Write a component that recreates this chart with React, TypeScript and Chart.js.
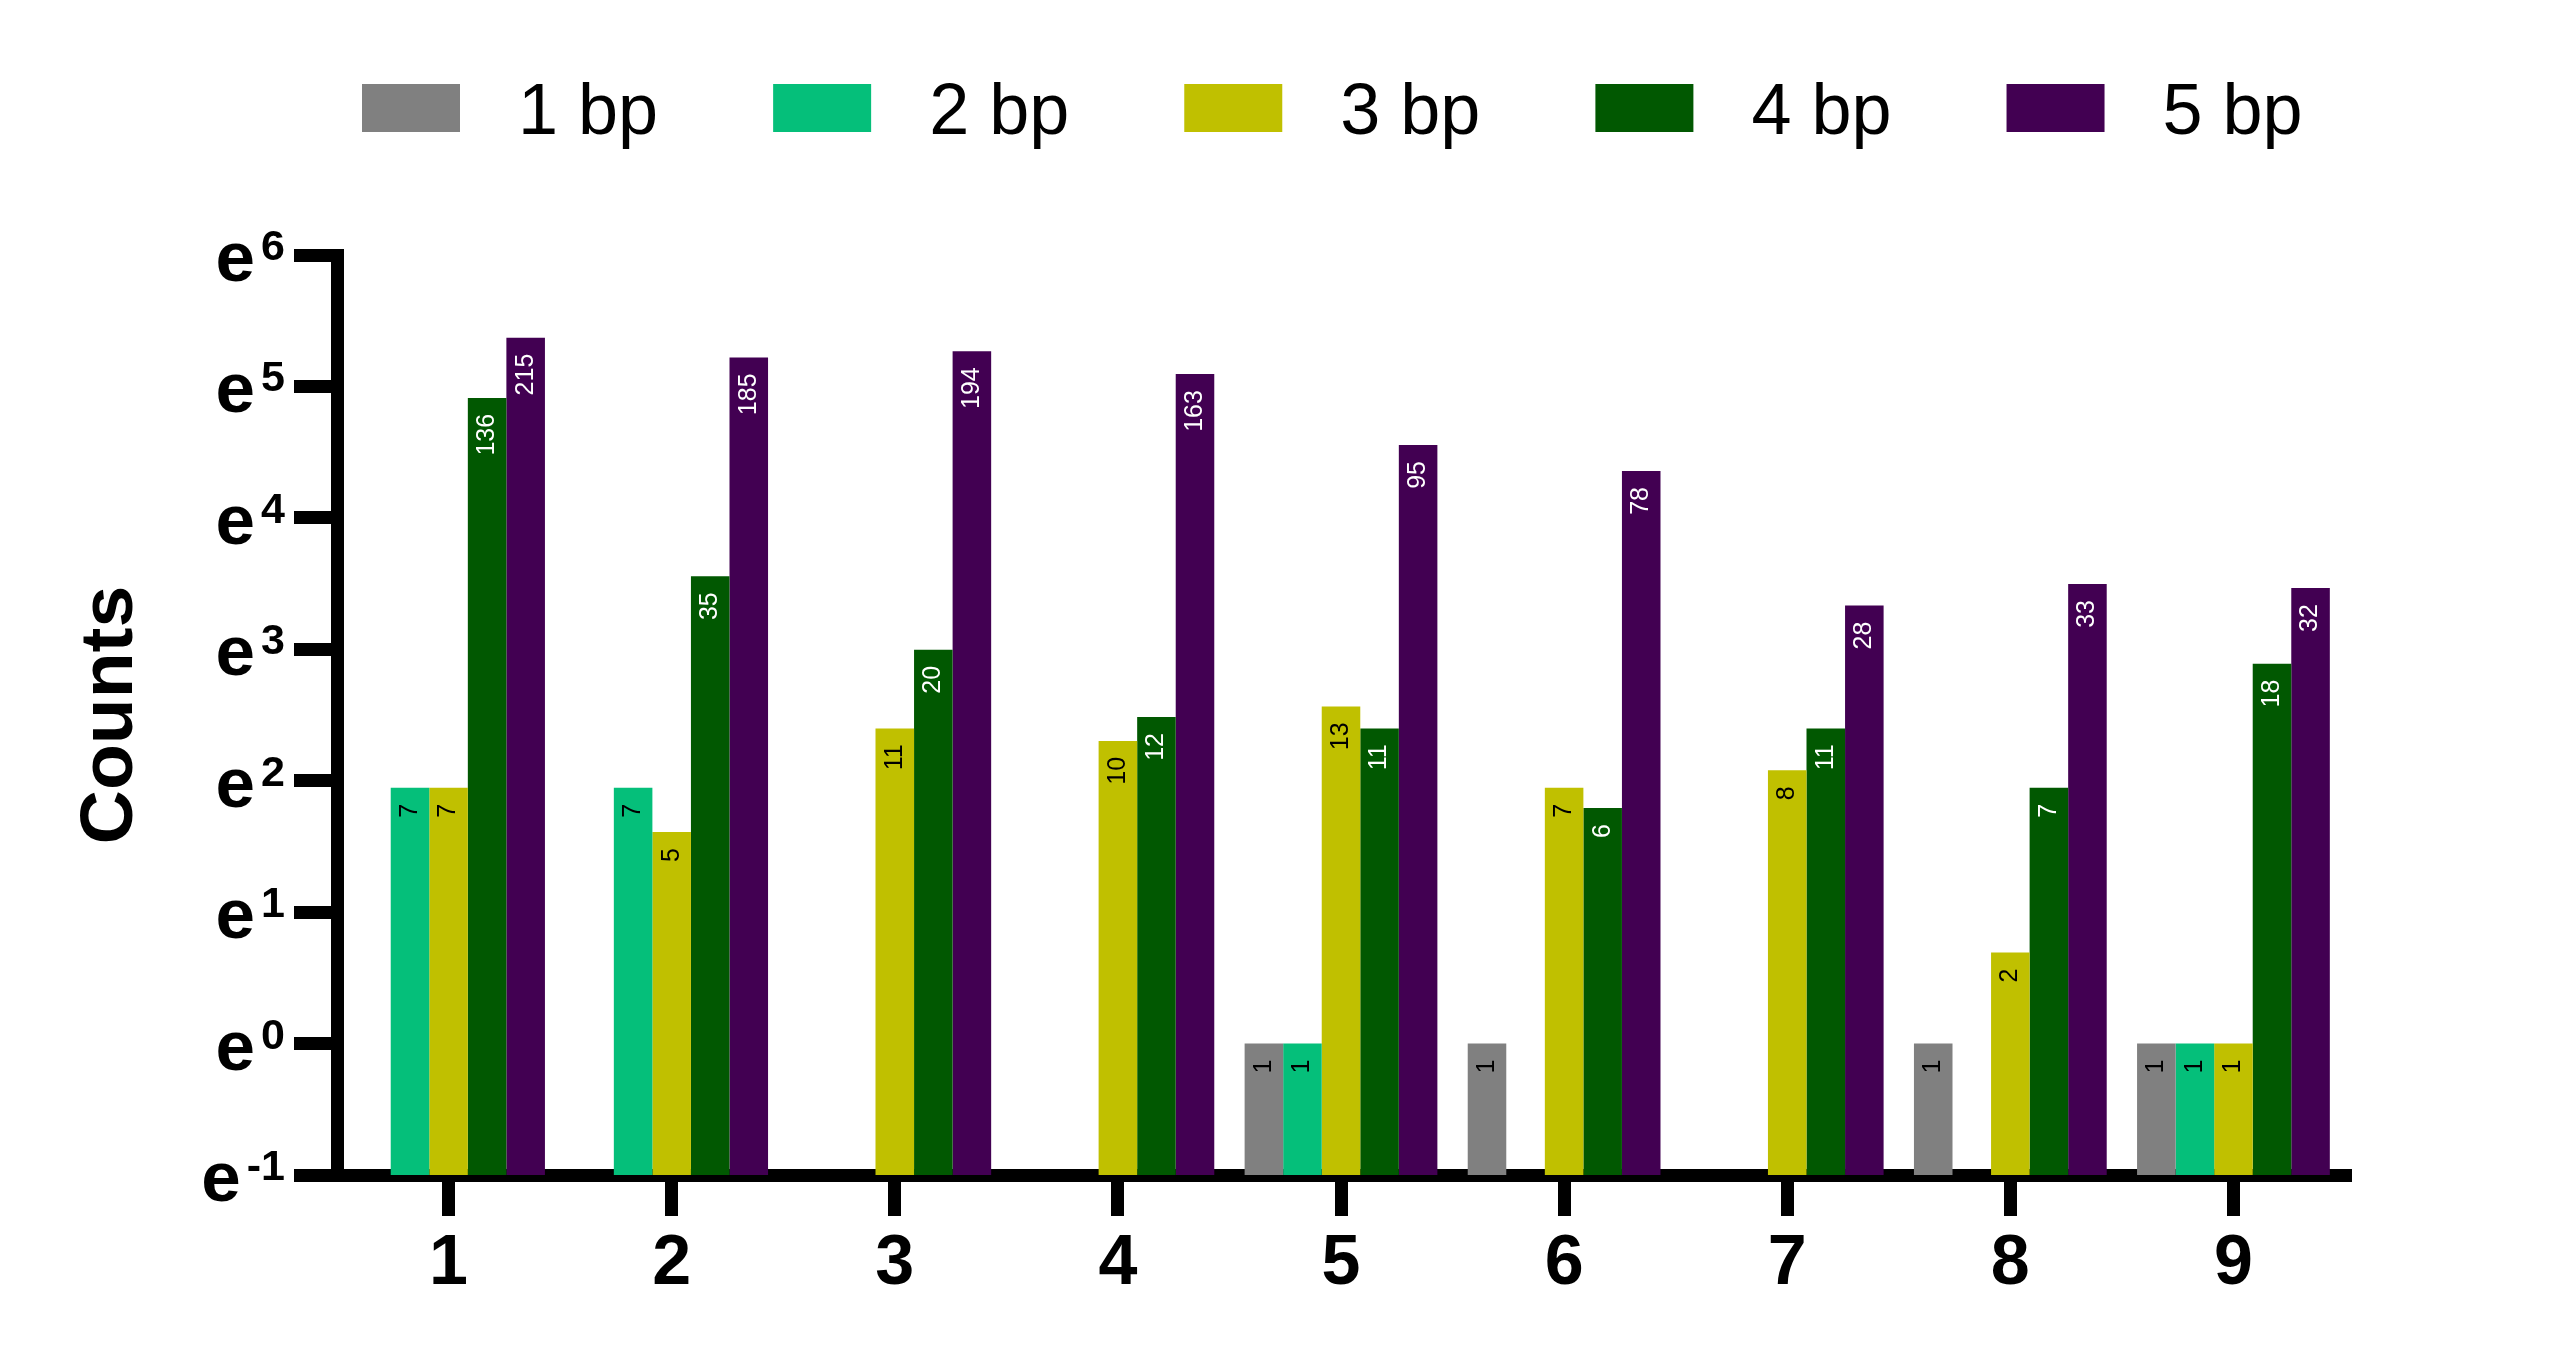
import { useEffect, useRef } from "react";
import { Chart, registerables, type Plugin } from "chart.js";

Chart.register(...registerables);

const FONT = "'Liberation Sans', Arial, Helvetica, sans-serif";

// counts per group, one array per deletion size (null = no bar)
const GROUPS = ["1", "2", "3", "4", "5", "6", "7", "8", "9"];
const SERIES_LABELS = ["1 bp", "2 bp", "3 bp", "4 bp", "5 bp"];
const BP1 = [null, null, null, null, 1, 1, null, 1, 1];
const BP2 = [7, 7, null, null, 1, null, null, null, 1];
const BP3 = [7, 5, 11, 10, 13, 7, 8, 2, 1];
const BP4 = [136, 35, 20, 12, 11, 6, 11, 7, 18];
const BP5 = [215, 185, 194, 163, 95, 78, 28, 33, 32];
const SERIES = [BP1, BP2, BP3, BP4, BP5];

// y axis ticks are powers of e
const Y_EXPONENTS = [-1, 0, 1, 2, 3, 4, 5, 6];

const COLORS = ["#808080", "#05BF7A", "#C0C000", "#015801", "#420052"];
const VALUE_COLORS = ["#000", "#000", "#000", "#fff", "#fff"];

const AXIS_W = 13;

/** Vertical value labels just inside the top of each bar. */
const valueLabels: Plugin<"bar"> = {
  id: "valueLabels",
  afterDatasetsDraw(chart) {
    const { ctx } = chart;
    chart.data.datasets.forEach((ds, i) => {
      const meta = chart.getDatasetMeta(i);
      meta.data.forEach((bar, j) => {
        const v = ds.data[j] as number | null;
        if (v == null) return;
        ctx.save();
        ctx.translate(bar.x, bar.y + 16);
        ctx.rotate(-Math.PI / 2);
        ctx.font = `25px ${FONT}`;
        ctx.textAlign = "right";
        ctx.textBaseline = "middle";
        ctx.fillStyle = VALUE_COLORS[i];
        ctx.fillText(String(v), 0, 0);
        ctx.restore();
      });
    });
  },
};

/** "e" with a superscript exponent at every y tick. */
const expTicks: Plugin<"bar"> = {
  id: "expTicks",
  afterDraw(chart) {
    const { ctx } = chart;
    const y = chart.scales.y;
    const right = y.right - 52;
    ctx.save();
    ctx.fillStyle = "#000";
    ctx.textAlign = "right";
    ctx.textBaseline = "alphabetic";
    y.ticks.forEach((t) => {
      const py = y.getPixelForValue(t.value);
      const exp = String(Math.round(Math.log(t.value)));
      ctx.font = `bold 43px ${FONT}`;
      ctx.fillText(exp, right, py + 5);
      const w = ctx.measureText(exp).width;
      ctx.font = `bold 71px ${FONT}`;
      ctx.fillText("e", right - w - 6, py + 26);
    });
    ctx.restore();
  },
};

/** Legend row across the top: wide swatch, gap, label. */
const topLegend: Plugin<"bar"> = {
  id: "topLegend",
  afterDraw(chart) {
    const { ctx } = chart;
    let x = 362;
    ctx.save();
    ctx.font = `72px ${FONT}`;
    ctx.textAlign = "left";
    ctx.textBaseline = "alphabetic";
    chart.data.datasets.forEach((ds) => {
      ctx.fillStyle = ds.backgroundColor as string;
      ctx.fillRect(x, 84, 98, 48);
      ctx.fillStyle = "#000";
      const label = ds.label ?? "";
      ctx.fillText(label, x + 98 + 58, 134);
      x += 98 + 58 + ctx.measureText(label).width + 115;
    });
    ctx.restore();
  },
};

const axisGrid = (tickLength: number) => ({
  offset: false,
  drawOnChartArea: false,
  drawTicks: true,
  tickLength,
  tickWidth: AXIS_W,
  tickColor: "#000",
  lineWidth: AXIS_W,
  color: "#000",
});

export default function App() {
  const canvasRef = useRef<HTMLCanvasElement>(null);

  useEffect(() => {
    document.body.style.margin = "0";
    document.body.style.overflow = "hidden";
    const canvas = canvasRef.current;
    if (!canvas) return;
    const chart = new Chart(canvas, {
      type: "bar",
      data: {
        labels: GROUPS,
        datasets: SERIES.map((data, i) => ({
          label: SERIES_LABELS[i],
          data,
          backgroundColor: COLORS[i],
          borderWidth: 0,
          categoryPercentage: 0.864,
          barPercentage: 1,
        })),
      },
      options: {
        animation: false,
        responsive: true,
        maintainAspectRatio: false,
        layout: { padding: { top: 255, right: 215, bottom: 0, left: 0 } },
        plugins: { legend: { display: false }, tooltip: { enabled: false } },
        scales: {
          x: {
            type: "category",
            offset: true,
            grid: axisGrid(41),
            border: { display: true, width: AXIS_W, color: "#000" },
            ticks: {
              color: "#000",
              padding: 7,
              autoSkip: false,
              maxRotation: 0,
              font: { family: FONT, size: 70, weight: "bold", lineHeight: 1.2 },
            },
            afterFit: (s) => {
              s.height = 192;
            },
          },
          y: {
            type: "logarithmic",
            min: Math.exp(-1),
            max: Math.exp(6),
            afterBuildTicks: (s) => {
              s.ticks = Y_EXPONENTS.map((k) => ({ value: Math.exp(k) }));
            },
            grid: axisGrid(43),
            border: { display: true, width: AXIS_W, color: "#000" },
            ticks: { display: false },
            title: {
              display: true,
              text: "Counts",
              color: "#000",
              font: { family: FONT, size: 75, weight: "bold", lineHeight: 1.2 },
              padding: { top: 66, bottom: 0 },
            },
            afterFit: (s) => {
              s.width = 337;
            },
          },
        },
      },
      plugins: [valueLabels, expTicks, topLegend],
    });
    return () => chart.destroy();
  }, []);

  return (
    <div style={{ position: "relative", width: 2560, height: 1367, background: "#fff" }}>
      <canvas ref={canvasRef} />
    </div>
  );
}
